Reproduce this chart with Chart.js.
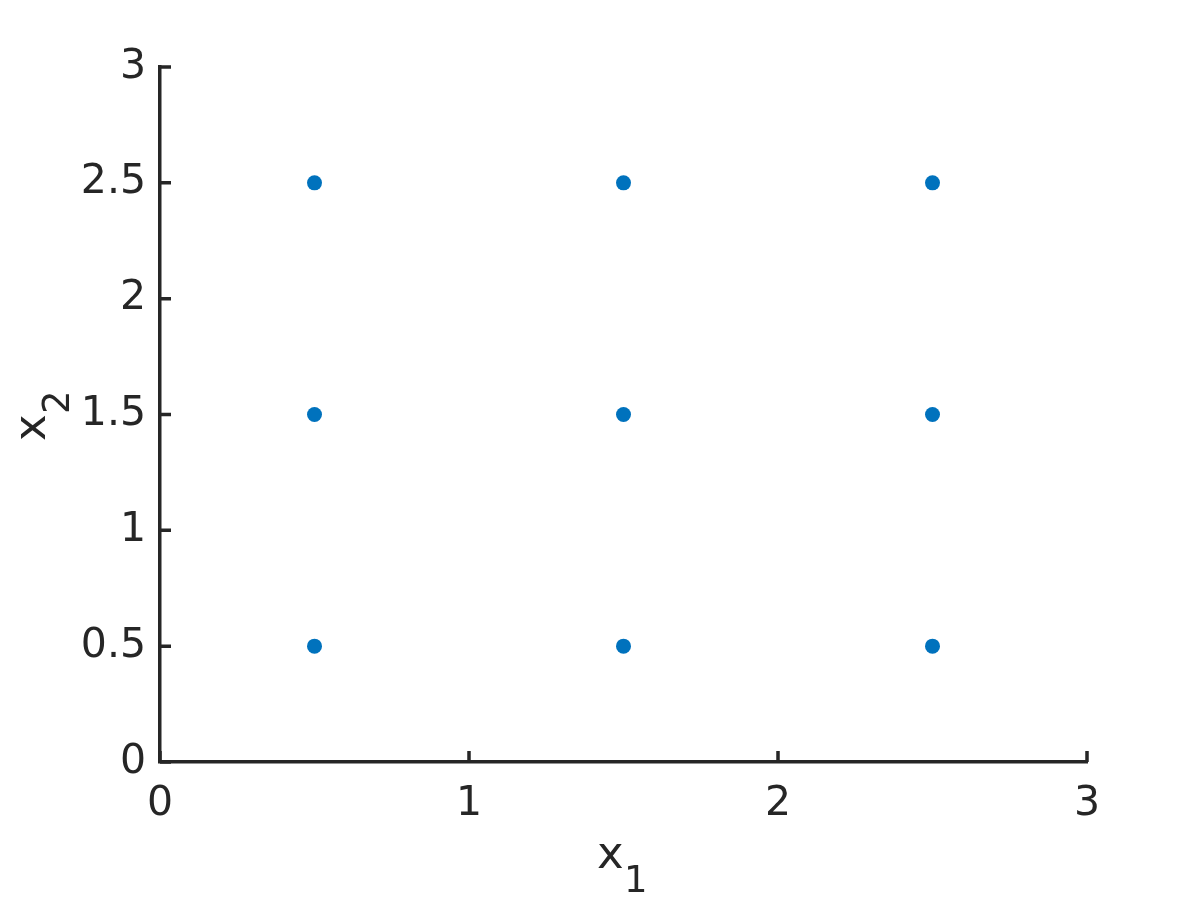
<!DOCTYPE html>
<html>
<head>
<meta charset="utf-8">
<script src="https://cdn.jsdelivr.net/npm/chart.js@4/dist/chart.umd.min.js"></script>
<style>
  html, body { margin: 0; padding: 0; background: #ffffff; }
  #wrap { width: 1200px; height: 900px; }
</style>
</head>
<body>
<div id="wrap"><canvas id="myScatter" width="1200" height="900"></canvas></div>
<script>
// grid points (x1, x2)
var x1Values = [0.5, 0.5, 0.5, 1.5, 1.5, 1.5, 2.5, 2.5, 2.5];
var x2Values = [0.5, 1.5, 2.5, 0.5, 1.5, 2.5, 0.5, 1.5, 2.5];
var xTicks = [0, 1, 2, 3];
var yTicks = [0, 0.5, 1, 1.5, 2, 2.5, 3];
var xLabel = ["x", "1"];
var yLabel = ["x", "2"];

var axisColor = "#262626";
var dotColor = "#0072BD";
var fontFamily = "'DejaVu Sans', sans-serif";

var points = [];
for (var i = 0; i < x1Values.length; i++) {
    points.push({ x: x1Values[i], y: x2Values[i] });
}

// inward tick marks + axis titles with subscripts
var axesExtras = {
    id: "axesExtras",
    afterDraw: function (chart) {
        var ctx = chart.ctx;
        var xs = chart.scales.x, ys = chart.scales.y;
        var area = chart.chartArea;
        ctx.save();
        ctx.strokeStyle = axisColor;
        ctx.lineWidth = 3.5;
        ctx.beginPath();
        xTicks.forEach(function (v) {
            var px = xs.getPixelForValue(v);
            ctx.moveTo(px, area.bottom);
            ctx.lineTo(px, area.bottom - 11);
        });
        yTicks.forEach(function (v) {
            var py = ys.getPixelForValue(v);
            ctx.moveTo(area.left, py);
            ctx.lineTo(area.left + 11, py);
        });
        ctx.stroke();

        ctx.fillStyle = axisColor;
        ctx.textBaseline = "alphabetic";
        // x label
        ctx.font = "45px " + fontFamily;
        ctx.textAlign = "left";
        ctx.fillText(xLabel[0], 597, 868);
        ctx.font = "37px " + fontFamily;
        ctx.fillText(xLabel[1], 624, 892);
        // y label, rotated
        ctx.translate(45, 0);
        ctx.rotate(-Math.PI / 2);
        ctx.font = "45px " + fontFamily;
        ctx.fillText(yLabel[0], -441, 0);
        ctx.font = "37px " + fontFamily;
        ctx.fillText(yLabel[1], -414, 24);
        ctx.restore();
    }
};

function plainLabel(value) {
    return String(value);
}

var myScatter = new Chart(document.getElementById("myScatter"), {
    type: "scatter",
    data: {
        datasets: [{
            data: points,
            backgroundColor: dotColor,
            borderColor: dotColor,
            pointRadius: 7.5,
            pointHoverRadius: 7.5,
            borderWidth: 0
        }]
    },
    options: {
        responsive: false,
        animation: false,
        events: [],
        layout: {
            padding: { left: 0, top: 67, right: 113, bottom: 0 }
        },
        plugins: {
            legend: { display: false },
            tooltip: { enabled: false },
            title: { display: false }
        },
        scales: {
            x: {
                type: "linear",
                min: 0,
                max: 3,
                afterBuildTicks: function (scale) {
                    scale.ticks = xTicks.map(function (v) { return { value: v }; });
                },
                afterFit: function (scale) { scale.height = 138; },
                grid: { display: true, drawOnChartArea: false, drawTicks: false },
                border: { display: true, color: axisColor, width: 3.5 },
                ticks: {
                    color: axisColor,
                    padding: 18,
                    maxRotation: 0,
                    callback: plainLabel,
                    font: { family: fontFamily, size: 41 }
                }
            },
            y: {
                type: "linear",
                min: 0,
                max: 3,
                afterBuildTicks: function (scale) {
                    scale.ticks = yTicks.map(function (v) { return { value: v }; });
                },
                afterFit: function (scale) { scale.width = 160; },
                grid: { display: true, drawOnChartArea: false, drawTicks: false },
                border: { display: true, color: axisColor, width: 3.5 },
                ticks: {
                    color: axisColor,
                    padding: 14,
                    callback: plainLabel,
                    font: { family: fontFamily, size: 41 }
                }
            }
        }
    },
    plugins: [axesExtras]
});
</script>
</body>
</html>
